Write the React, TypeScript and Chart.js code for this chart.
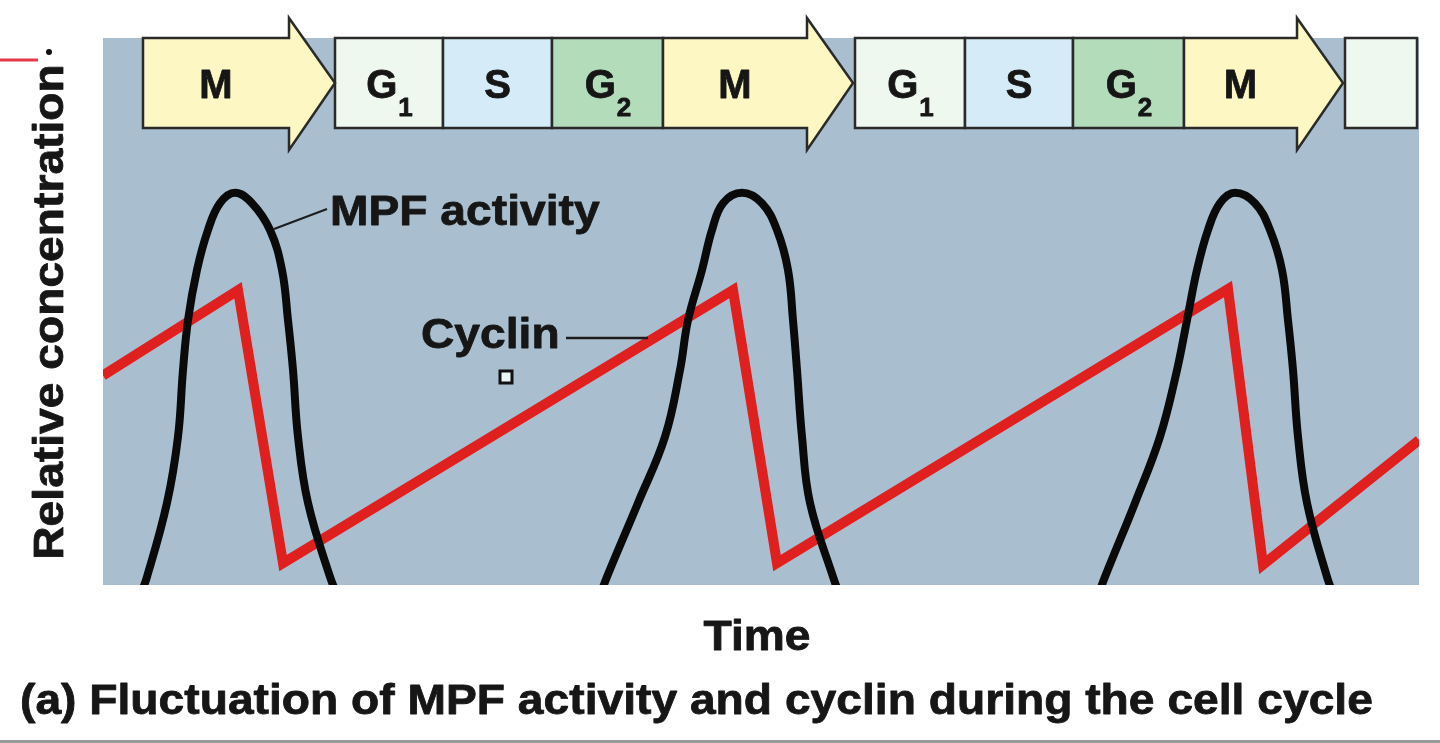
import { useEffect, useRef } from 'react';
import { Chart, registerables } from 'chart.js';

Chart.register(...registerables);

// ---- data (time in arbitrary units 0..1316, value in % of plot height) ----
const TIME_MAX = 1316;

const phaseNames = ['M', 'G1', 'S', 'G2', 'M', 'G1', 'S', 'G2', 'M', ''];
const phaseStart = [40, 232, 340, 449, 560, 752, 862, 970, 1081, 1242];
const phaseEnd = [232, 340, 449, 560, 750, 862, 970, 1081, 1240, 1314];

const mpfTime = [
  35, 44, 64, 75, 80, 85, 94, 105, 117, 132, 149, 167, 179, 185, 190, 195, 205, 227, 237,
  366,
  495, 504, 535, 562, 577, 585, 599, 609, 620, 639, 659, 674, 685, 690, 694, 699, 707, 730, 739,
  866,
  993, 1002, 1032, 1057, 1074, 1084, 1094, 1105, 1117, 1132, 1152, 1167, 1179, 1185, 1190, 1195, 1204, 1224, 1233,
];
const mpfValue = [
  -3, 1.5, 15, 27.1, 39.3, 48.4, 57.6, 64.9, 69.8, 71.7, 69.8, 64.9, 57.6, 48.4, 39.3, 27.1, 15, 1.5, -3,
  null,
  -3, 1.5, 15, 27.1, 39.3, 48.4, 57.6, 64.9, 69.8, 71.7, 69.8, 64.9, 57.6, 48.4, 39.3, 27.1, 15, 1.5, -3,
  null,
  -3, 1.5, 15, 27.1, 39.3, 48.4, 57.6, 64.9, 69.8, 71.7, 69.8, 64.9, 57.6, 48.4, 39.3, 27.1, 15, 1.5, -3,
];

const cyclinTime = [0, 135, 180, 630, 674, 1125, 1160, 1316];
const cyclinValue = [38.3, 53.9, 4.0, 53.9, 4.0, 54.1, 3.7, 26.5];

const yTitle = 'Relative concentration';
const xTitle = 'Time';
const caption = '(a) Fluctuation of MPF activity and cyclin during the cell cycle';
const mpfLabel = 'MPF activity';
const cyclinLabel = 'Cyclin';

// ---- styles ----
const FONT = '"Liberation Sans", Arial, Helvetica, sans-serif';
const TEXT_COLOR = '#161616';
const PLOT_BG = '#a9bfcf';
const phaseColor: Record<string, string> = {
  M: '#fdf8c3',
  G1: '#eff8ee',
  S: '#d5ecf8',
  G2: '#b3dcba',
  '': '#eff8ee',
};

function drawText(
  ctx: CanvasRenderingContext2D,
  s: string,
  x: number,
  y: number,
  size: number,
  align: CanvasTextAlign = 'left',
  sx = 1.1,
  rotate = false,
) {
  ctx.save();
  ctx.translate(x, y);
  if (rotate) ctx.rotate(-Math.PI / 2);
  ctx.scale(sx, 1);
  ctx.font = `bold ${size}px ${FONT}`;
  ctx.textAlign = align;
  ctx.textBaseline = 'alphabetic';
  ctx.fillStyle = TEXT_COLOR;
  ctx.strokeStyle = TEXT_COLOR;
  ctx.lineWidth = 0.8;
  ctx.lineJoin = 'round';
  ctx.fillText(s, 0, 0);
  ctx.strokeText(s, 0, 0);
  ctx.restore();
}

const decorPlugin = {
  id: 'decor',
  beforeDraw(chart: any) {
    const { ctx, chartArea } = chart;
    ctx.save();
    ctx.fillStyle = '#ffffff';
    ctx.fillRect(0, 0, chart.width, chart.height);
    ctx.fillStyle = PLOT_BG;
    ctx.fillRect(chartArea.left, chartArea.top, chartArea.right - chartArea.left, chartArea.bottom - chartArea.top);
    ctx.restore();
  },
  afterDraw(chart: any) {
    const { ctx } = chart;
    const xs = chart.scales.x;
    const bodyTop = 38;
    const bodyBot = 128;
    const headTop = 18;
    const headBot = 150;
    const headLen = 46;
    const mid = (bodyTop + bodyBot) / 2;

    ctx.save();
    ctx.lineJoin = 'miter';
    ctx.lineWidth = 2.5;
    ctx.strokeStyle = '#2a2a2a';
    const order = phaseNames
      .map((_, i) => i)
      .sort((a, b) => (phaseNames[a] === 'M' ? 1 : 0) - (phaseNames[b] === 'M' ? 1 : 0));
    for (const i of order) {
      const name = phaseNames[i];
      const s = xs.getPixelForValue(phaseStart[i]);
      const e = xs.getPixelForValue(phaseEnd[i]);
      ctx.fillStyle = phaseColor[name];
      ctx.beginPath();
      if (name === 'M') {
        const hb = e - headLen;
        ctx.moveTo(s, bodyTop);
        ctx.lineTo(hb, bodyTop);
        ctx.lineTo(hb, headTop);
        ctx.lineTo(e, mid);
        ctx.lineTo(hb, headBot);
        ctx.lineTo(hb, bodyBot);
        ctx.lineTo(s, bodyBot);
        ctx.closePath();
      } else {
        ctx.rect(s, bodyTop, e - s, bodyBot - bodyTop);
      }
      ctx.fill();
      ctx.stroke();
    }
    for (let i = 0; i < phaseNames.length; i++) {
      const name = phaseNames[i];
      if (!name) continue;
      const s = xs.getPixelForValue(phaseStart[i]);
      const e = xs.getPixelForValue(phaseEnd[i]) - (name === 'M' ? headLen : 0);
      const cx = (s + e) / 2;
      const base = 98;
      if (name.length === 1) {
        drawText(ctx, name, cx, base, 40, 'center', 1.0);
      } else {
        const main = name[0];
        const sub = name.slice(1);
        ctx.font = `bold 40px ${FONT}`;
        const wm = ctx.measureText(main).width;
        ctx.font = `bold 26px ${FONT}`;
        const ws = ctx.measureText(sub).width;
        const left = cx - (wm + ws) / 2;
        drawText(ctx, main, left, base, 40, 'left', 1.0);
        drawText(ctx, sub, left + wm + 1, base + 18, 26, 'left', 1.0);
      }
    }
    ctx.restore();

    // annotations
    ctx.save();
    ctx.strokeStyle = '#1c1c1c';
    ctx.lineWidth = 2;
    ctx.beginPath();
    ctx.moveTo(327, 209);
    ctx.lineTo(274, 229);
    ctx.stroke();
    ctx.lineWidth = 2.5;
    ctx.beginPath();
    ctx.moveTo(566, 338);
    ctx.lineTo(648, 338);
    ctx.stroke();
    ctx.restore();
    drawText(ctx, mpfLabel, 330, 225, 42, 'left', 1.1);
    drawText(ctx, cyclinLabel, 421, 348, 42, 'left', 1.1);

    ctx.save();
    ctx.fillStyle = '#eaf6f2';
    ctx.strokeStyle = '#111';
    ctx.lineWidth = 3;
    ctx.fillRect(500, 371, 12, 12);
    ctx.strokeRect(500, 371, 12, 12);
    ctx.restore();

    drawText(ctx, yTitle, 63, 312, 42, 'center', 1.1, true);
    drawText(ctx, xTitle, 757, 650, 42, 'center', 1.1);
    drawText(ctx, caption, 20, 714, 42, 'left', 1.1);

    ctx.save();
    ctx.strokeStyle = '#e8394a';
    ctx.lineWidth = 3;
    ctx.beginPath();
    ctx.moveTo(0, 60);
    ctx.lineTo(38, 60);
    ctx.stroke();
    ctx.fillStyle = '#111';
    ctx.beginPath();
    ctx.arc(49, 52, 3, 0, Math.PI * 2);
    ctx.fill();
    ctx.fillStyle = '#9a9a9a';
    ctx.fillRect(0, 740, chart.width, 3);
    ctx.restore();
  },
};

export default function App() {
  const ref = useRef<HTMLCanvasElement>(null);
  useEffect(() => {
    if (!ref.current) return;
    const chart = new Chart(ref.current, {
      type: 'line',
      data: {
        datasets: [
          {
            label: 'MPF activity',
            data: mpfTime.map((t, i) => ({ x: t, y: mpfValue[i] })) as any,
            borderColor: '#0a0a0a',
            borderWidth: 8,
            pointRadius: 0,
            tension: 0.4,
            spanGaps: false,
            borderCapStyle: 'round',
            borderJoinStyle: 'round',
            fill: false,
            clip: 0,
          },
          {
            label: 'Cyclin',
            data: cyclinTime.map((t, i) => ({ x: t, y: cyclinValue[i] })),
            borderColor: '#e01f1f',
            borderWidth: 10,
            pointRadius: 0,
            tension: 0,
            borderJoinStyle: 'miter',
            fill: false,
            clip: 0,
          },
        ],
      },
      options: {
        animation: false,
        responsive: false,
        devicePixelRatio: 1,
        layout: { padding: { left: 103, right: 21, top: 38, bottom: 158 } },
        scales: {
          x: { type: 'linear', min: 0, max: TIME_MAX, display: false },
          y: { type: 'linear', min: 0, max: 100, display: false },
        },
        plugins: { legend: { display: false }, tooltip: { enabled: false } },
        events: [],
      },
      plugins: [decorPlugin],
    });
    return () => chart.destroy();
  }, []);
  return (
    <div style={{ position: 'absolute', left: 0, top: 0, width: 1440, height: 743, background: '#fff' }}>
      <canvas ref={ref} width={1440} height={743} style={{ display: 'block', width: 1440, height: 743 }} />
    </div>
  );
}
